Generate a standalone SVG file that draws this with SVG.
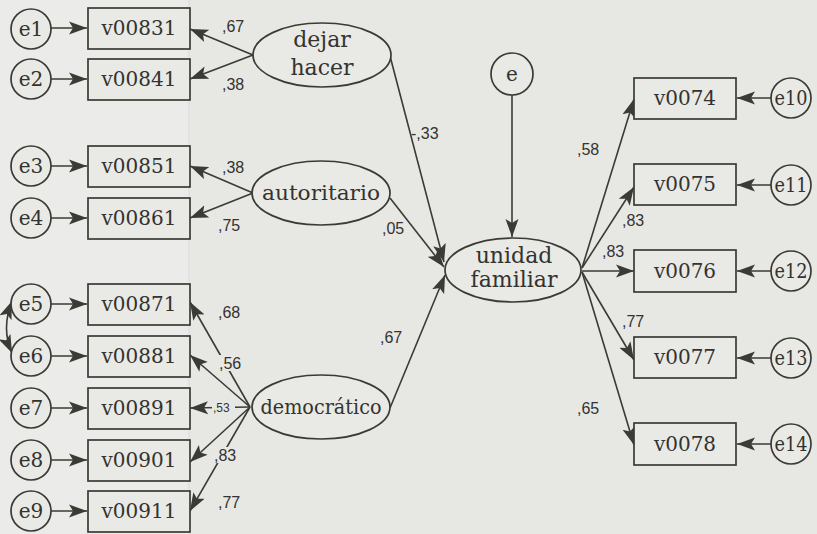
<svg xmlns="http://www.w3.org/2000/svg" width="817" height="534" viewBox="0 0 817 534">
<defs>
<marker id="ah" markerUnits="userSpaceOnUse" markerWidth="20" markerHeight="14" refX="18" refY="7" orient="auto-start-reverse">
<path d="M0,0.5 L18,7 L0,13.5 L4,7 z" fill="#3b3b35"/>
</marker>
<style>
.bg{fill:#e7e7e4}
.n{fill:#e9e9e6;stroke:#3b3b35;stroke-width:1.7}
.t{font-family:"DejaVu Serif","Liberation Serif",serif;font-size:20px;fill:#33332f;text-anchor:middle}
.tl{font-family:"DejaVu Serif","Liberation Serif",serif;font-size:22px;fill:#33332f;text-anchor:middle}
.et{font-family:"DejaVu Serif","Liberation Serif",serif;font-size:20px;fill:#33332f;text-anchor:middle}
.c{fill:none;stroke:#3b3b35;stroke-width:1.6;marker-end:url(#ah)}
.l{font-family:"Liberation Sans",Arial,sans-serif;font-size:16px;fill:#33332f}
.s{font-family:"Liberation Sans",Arial,sans-serif;font-size:12px;fill:#33332f}
.lb{fill:#e7e7e4}
</style>
</defs>
<rect class="bg" x="0" y="0" width="817" height="534"/>
<rect x="0" y="0" width="189" height="534" fill="#ebebea"/>
<line x1="189" y1="0" x2="189" y2="534" stroke="#d6dde3" stroke-width="1"/>

<g id="connectors">
<path class="c" d="M51,28 L87,28"/>
<path class="c" d="M51,79 L87,79"/>
<path class="c" d="M51,166 L87,166"/>
<path class="c" d="M51,218 L87,218"/>
<path class="c" d="M51,304 L87,304"/>
<path class="c" d="M51,356 L87,356"/>
<path class="c" d="M51,408 L87,408"/>
<path class="c" d="M51,460 L87,460"/>
<path class="c" d="M51,511 L87,511"/>
<path class="c" d="M12,301 Q1,329 12,353" style="marker-start:url(#ah)"/>
<path class="c" d="M253,55 L190,29"/>
<path class="c" d="M253,55 L190,79"/>
<path class="c" d="M253,193 L190,166"/>
<path class="c" d="M253,193 L190,218"/>
<path class="c" d="M250,407 L190,302"/>
<path class="c" d="M250,407 L190,355"/>
<path class="c" d="M250,407 L190,408"/>
<path class="c" d="M250,407 L190,462"/>
<path class="c" d="M250,407 L190,511"/>
<path class="c" d="M390,56 L444,262"/>
<path class="c" d="M390,198 L444,267"/>
<path class="c" d="M390,408 L445,275"/>
<path class="c" d="M512,95 L512,237"/>
<path class="c" d="M582,268 L634,99"/>
<path class="c" d="M582,268 L634,187"/>
<path class="c" d="M582,271 L634,271"/>
<path class="c" d="M582,272 L634,360"/>
<path class="c" d="M582,272 L634,445"/>
<path class="c" d="M771,98 L737,98"/>
<path class="c" d="M771,185 L737,185"/>
<path class="c" d="M771,271 L737,271"/>
<path class="c" d="M771,358 L737,358"/>
<path class="c" d="M771,444 L737,444"/>
<text class="l" x="222" y="32">,67</text>
<text class="l" x="222" y="90">,38</text>
<text class="l" x="222" y="173">,38</text>
<text class="l" x="218" y="231">,75</text>
<text class="l" x="218" y="318">,68</text>
<rect class="lb" x="218" y="355" width="26" height="16"/>
<text class="l" x="219" y="369">,56</text>
<rect class="lb" x="212" y="400" width="23" height="14"/>
<text class="s" x="213" y="412">,53</text>
<rect class="lb" x="213" y="447" width="27" height="16"/>
<text class="l" x="214" y="461">,83</text>
<text class="l" x="218" y="508">,77</text>
<text class="l" x="411" y="139">-,33</text>
<text class="l" x="382" y="234">,05</text>
<text class="l" x="380" y="343">,67</text>
<text class="l" x="577" y="155">,58</text>
<text class="l" x="622" y="226">,83</text>
<text class="l" x="602" y="257">,83</text>
<text class="l" x="622" y="327">,77</text>
<text class="l" x="577" y="414">,65</text>
</g>

<g id="e1"><circle class="n" cx="31" cy="29" r="20"/><text class="et" x="31" y="36">e1</text></g>
<g id="e2"><circle class="n" cx="31" cy="79" r="20"/><text class="et" x="31" y="86">e2</text></g>
<g id="e3"><circle class="n" cx="31" cy="166" r="20"/><text class="et" x="31" y="173">e3</text></g>
<g id="e4"><circle class="n" cx="31" cy="218" r="20"/><text class="et" x="31" y="225">e4</text></g>
<g id="e5"><circle class="n" cx="31" cy="304" r="20"/><text class="et" x="31" y="311">e5</text></g>
<g id="e6"><circle class="n" cx="31" cy="356" r="20"/><text class="et" x="31" y="363">e6</text></g>
<g id="e7"><circle class="n" cx="31" cy="408" r="20"/><text class="et" x="31" y="415">e7</text></g>
<g id="e8"><circle class="n" cx="31" cy="460" r="20"/><text class="et" x="31" y="467">e8</text></g>
<g id="e9"><circle class="n" cx="31" cy="511" r="20"/><text class="et" x="31" y="518">e9</text></g>

<g id="v00831"><rect class="n" x="88" y="8" width="102" height="41"/><text class="t" x="139" y="35">v00831</text></g>
<g id="v00841"><rect class="n" x="88" y="59" width="102" height="41"/><text class="t" x="139" y="86">v00841</text></g>
<g id="v00851"><rect class="n" x="88" y="146" width="102" height="41"/><text class="t" x="139" y="173">v00851</text></g>
<g id="v00861"><rect class="n" x="88" y="198" width="102" height="41"/><text class="t" x="139" y="225">v00861</text></g>
<g id="v00871"><rect class="n" x="88" y="284" width="102" height="41"/><text class="t" x="139" y="311">v00871</text></g>
<g id="v00881"><rect class="n" x="88" y="336" width="102" height="41"/><text class="t" x="139" y="363">v00881</text></g>
<g id="v00891"><rect class="n" x="88" y="388" width="102" height="41"/><text class="t" x="139" y="415">v00891</text></g>
<g id="v00901"><rect class="n" x="88" y="440" width="102" height="41"/><text class="t" x="139" y="467">v00901</text></g>
<g id="v00911"><rect class="n" x="88" y="491" width="102" height="41"/><text class="t" x="139" y="518">v00911</text></g>

<g id="dejar_hacer"><ellipse class="n" cx="322" cy="55" rx="69" ry="32"/><text class="tl" x="322" y="47">dejar</text><text class="tl" x="322" y="75">hacer</text></g>
<g id="autoritario"><ellipse class="n" cx="321" cy="193" rx="69" ry="32"/><text class="t" x="321" y="200" textLength="118" lengthAdjust="spacingAndGlyphs">autoritario</text></g>
<g id="democratico"><ellipse class="n" cx="321" cy="407" rx="69" ry="32"/><text class="t" x="321" y="414" textLength="121" lengthAdjust="spacingAndGlyphs">democrático</text></g>
<g id="unidad_familiar"><ellipse class="n" cx="513" cy="270" rx="68" ry="32"/><text class="tl" x="514" y="263">unidad</text><text class="tl" x="514" y="287">familiar</text></g>
<g id="e"><circle class="n" cx="512" cy="74" r="21"/><text class="et" x="512" y="81">e</text></g>

<g id="v0074"><rect class="n" x="634" y="78" width="102" height="41"/><text class="t" x="685" y="105">v0074</text></g>
<g id="v0075"><rect class="n" x="634" y="164" width="102" height="41"/><text class="t" x="685" y="191">v0075</text></g>
<g id="v0076"><rect class="n" x="634" y="250" width="102" height="42"/><text class="t" x="685" y="278">v0076</text></g>
<g id="v0077"><rect class="n" x="634" y="337" width="102" height="41"/><text class="t" x="685" y="364">v0077</text></g>
<g id="v0078"><rect class="n" x="634" y="423" width="102" height="42"/><text class="t" x="685" y="451">v0078</text></g>

<g id="e10"><circle class="n" cx="791" cy="98" r="20"/><text class="et" x="791" y="105" textLength="33" lengthAdjust="spacingAndGlyphs">e10</text></g>
<g id="e11"><circle class="n" cx="791" cy="185" r="20"/><text class="et" x="791" y="192" textLength="33" lengthAdjust="spacingAndGlyphs">e11</text></g>
<g id="e12"><circle class="n" cx="791" cy="271" r="20"/><text class="et" x="791" y="278" textLength="33" lengthAdjust="spacingAndGlyphs">e12</text></g>
<g id="e13"><circle class="n" cx="791" cy="358" r="20"/><text class="et" x="791" y="365" textLength="33" lengthAdjust="spacingAndGlyphs">e13</text></g>
<g id="e14"><circle class="n" cx="791" cy="444" r="20"/><text class="et" x="791" y="451" textLength="33" lengthAdjust="spacingAndGlyphs">e14</text></g>
</svg>
